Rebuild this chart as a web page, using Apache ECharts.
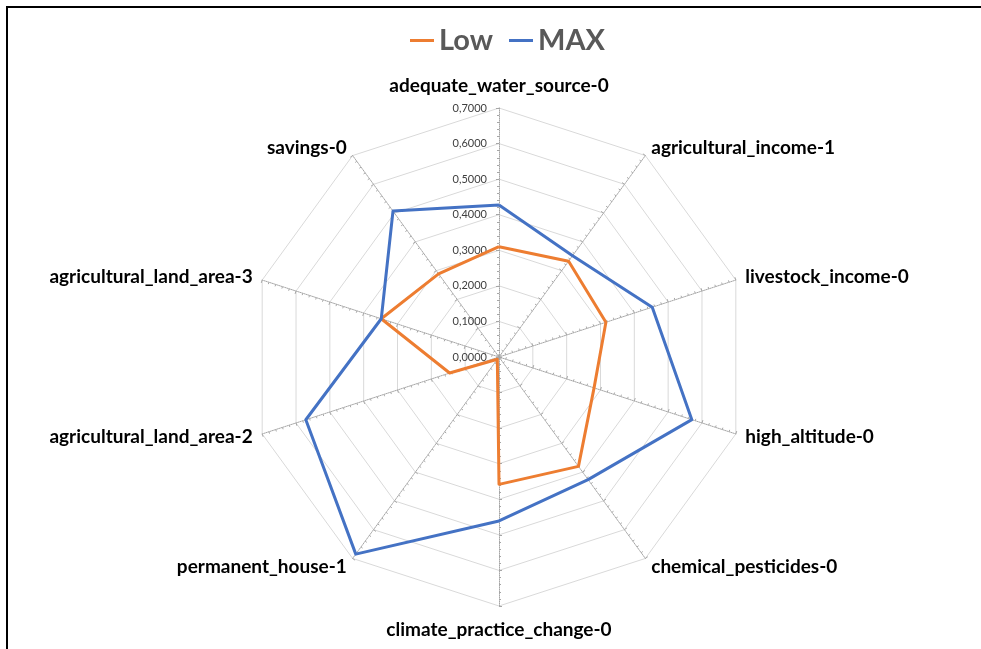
<!DOCTYPE html>
<html>
<head>
<meta charset="utf-8">
<script src="https://cdn.jsdelivr.net/npm/echarts@6/dist/echarts.min.js"></script>
<style>
html,body{margin:0;padding:0;background:#fff;width:981px;height:649px;overflow:hidden;}
#frame{position:absolute;left:6px;top:6px;width:1100px;height:800px;border:2px solid #000;box-sizing:border-box;}
#chart{position:absolute;left:0;top:0;width:981px;height:649px;}
</style>
</head>
<body>
<div id="frame"></div>
<div id="chart"></div>
<script>
// Categories in clockwise order starting from the top
const categories = ['adequate_water_source-0','agricultural_income-1','livestock_income-0','high_altitude-0','chemical_pesticides-0','climate_practice_change-0','permanent_house-1','agricultural_land_area-2','agricultural_land_area-3','savings-0'];
const lowValues = [0.310, 0.333, 0.316, 0.281, 0.380, 0.358, 0.008, 0.146, 0.348, 0.289];
const maxValues = [0.427, 0.352, 0.453, 0.570, 0.426, 0.461, 0.685, 0.571, 0.348, 0.507];
const seriesNames = ['Low', 'MAX'];
const axisMax = 0.7;

// ECharts radar goes counter-clockwise; reorder to draw clockwise
const order = [0].concat(categories.map((_, i) => i).slice(1).reverse());
const indicator = order.map((idx, k) => {
  const ind = { name: categories[idx], max: axisMax, min: 0 };
  if (k === 0) {
    ind.axisLabel = { show: true };
    ind.nameGap = 13;
  }
  if (idx === 5) ind.nameGap = 14;
  ind.minorTick = { show: true, splitNumber: 5, length: 2, lineStyle: { color: '#A6A6A6', width: 1 } };
  return ind;
});
const reorder = arr => order.map(i => arr[i]);

const chart = echarts.init(document.getElementById('chart'));
chart.setOption({
  backgroundColor: 'transparent',
  animation: false,
  legend: {
    top: 21,
    left: 405,
    data: seriesNames,
    icon: 'rect',
    itemWidth: 24,
    itemHeight: 3,
    itemGap: 16,
    textStyle: { fontFamily: 'Lato', fontWeight: 'bold', fontSize: 29, color: '#595959' }
  },
  radar: {
    center: [499, 357],
    radius: 249,
    startAngle: 90,
    shape: 'polygon',
    splitNumber: 7,
    nameGap: 10,
    axisName: { fontFamily: 'Lato', fontWeight: 'bold', fontSize: 19, color: '#000' },
    axisLine: { show: true, lineStyle: { color: '#A6A6A6', type: 'dotted', width: 1 } },
    axisTick: { show: true, length: 3, lineStyle: { color: '#A6A6A6' } },
    axisLabel: {
      show: false,
      fontFamily: 'Lato',
      fontSize: 11,
      color: '#404040',
      margin: 12,
      formatter: v => Number(v).toFixed(4).replace('.', ',')
    },
    splitLine: { lineStyle: { color: '#D9D9D9', width: 1 } },
    splitArea: { show: false },
    indicator: indicator
  },
  series: [{
    type: 'radar',
    symbol: 'none',
    data: [
      { name: seriesNames[0], value: reorder(lowValues), lineStyle: { color: '#ED7D31', width: 3 }, itemStyle: { color: '#ED7D31' } },
      { name: seriesNames[1], value: reorder(maxValues), lineStyle: { color: '#4472C4', width: 3 }, itemStyle: { color: '#4472C4' } }
    ]
  }]
});
</script>
</body>
</html>
